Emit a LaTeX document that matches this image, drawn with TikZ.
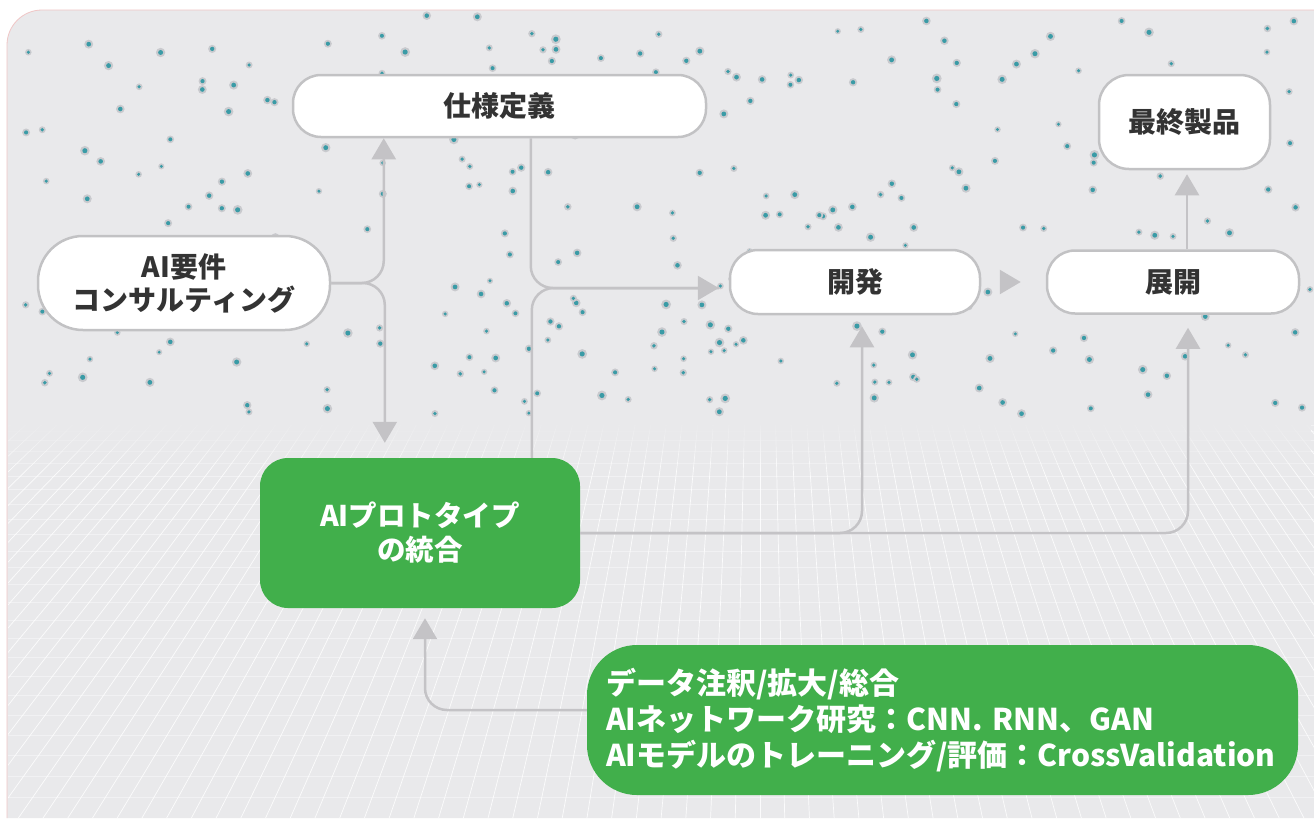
\documentclass[tikz,border=0pt]{standalone}
\usepackage{fontspec}
\setmainfont{Noto Sans CJK JP}
\usetikzlibrary{arrows.meta,calc,fadings}
\definecolor{bg}{HTML}{E9E9EB}
\definecolor{edge}{HTML}{F0C6C6}
\definecolor{bord}{HTML}{C2C2C4}
\definecolor{lc}{HTML}{C4C3C6}
\definecolor{txt}{HTML}{333333}
\definecolor{grn}{HTML}{41AF4B}
\definecolor{dotc}{HTML}{3A9BA6}
\definecolor{halo}{HTML}{C9CACE}
\begin{document}
\begin{tikzpicture}[x=1pt,y=-1pt,
  wbox/.style={draw=bord, line width=2.5pt, fill=white, text=txt, font=\bfseries\fontsize{28pt}{33pt}\selectfont, align=center, inner sep=0pt},
  gbox/.style={fill=grn, text=white, font=\bfseries\fontsize{28.5pt}{34pt}\selectfont, inner sep=0pt},
  conn/.style={draw=lc, line width=2.5pt, rounded corners=22pt},
  arr/.style={conn, -{Triangle[length=21pt,width=24pt]}},
  gridl/.style={draw=white, line width=0.7pt}
]
\useasboundingbox (0,0) rectangle (1314,823);
% background panel
\fill[white] (0,0) rectangle (1314,823);
\fill[bg] (1330,10) -- (42,10) arc[start angle=270,end angle=180,radius=35] -- (7,818) -- (1330,818) -- cycle;
\draw[edge, line width=0.8pt] (1330,10) -- (42,10) arc[start angle=270,end angle=180,radius=35] -- (7,818);
% perspective grid
\begin{scope}
\clip (8,425) rectangle (1314,817);
\foreach \k in {-55,...,40}{
  \draw[gridl, opacity=0.85] (760,-250) -- ({760+25*\k},830);
}
\foreach \j in {0,...,24}{
  \pgfmathsetmacro\gy{425+393*((\j/24)^1.3)}
  \draw[gridl, opacity=0.4] (8,\gy) -- (1314,\gy);
}
\fill[bg, path fading=south] (8,420) rectangle (1314,470);
\end{scope}
% dots
\pgfmathsetseed{2024}
\foreach \i in {1,...,310}{
  \pgfmathsetmacro\dx{22+1290*rnd}
  \pgfmathsetmacro\dy{14+400*rnd}
  \pgfmathsetmacro\dr{1.6+1.0*rnd}
  \fill[halo] (\dx,\dy) circle[radius=1.9*\dr];
  \fill[dotc] (\dx,\dy) circle[radius=\dr];
}
% nodes
\node[wbox, minimum width=413pt, minimum height=62pt, rounded corners=28pt] (spec) at (499.5,106) {仕様定義};
\node[wbox, minimum width=171pt, minimum height=94pt, rounded corners=30pt] (final) at (1184.5,122) {最終製品};
\node[wbox, minimum width=292pt, minimum height=94pt, rounded corners=45pt] (req) at (184,283) {AI要件\\コンサルティング};
\node[wbox, minimum width=250pt, minimum height=64pt, rounded corners=28pt] (dev) at (855,282) {開発};
\node[wbox, minimum width=252pt, minimum height=63pt, rounded corners=28pt] (dep) at (1173,282) {展開};
\node[gbox, minimum width=320pt, minimum height=150pt, rounded corners=28pt, align=center] (proto) at (420,533) {AIプロトタイプ\\の統合};
\node[gbox, minimum width=711pt, minimum height=150pt, rounded corners=50pt, align=left, text width=673pt, inner xsep=19pt, font=\bfseries\fontsize{30pt}{36pt}\selectfont] (tasks) at (942.5,720) {データ注釈/拡大/総合\\AIネットワーク研究：CNN. RNN、GAN\\AIモデルのトレーニング/評価：CrossValidation};
% connectors
\draw[arr] (req.east) -| ([xshift=92pt]spec.south west);
\draw[arr] (req.east) -| ([xshift=125pt,yshift=15pt]proto.north west);
\coordinate (devin) at ([xshift=-10pt,yshift=-6pt]dev.west);
\draw[arr] ([xshift=239pt]spec.south west) |- (devin);
\draw[conn] ([xshift=272pt]proto.north west) |- (devin);
\draw[arr] (proto.east) -| ([xshift=7pt,yshift=-11pt]dev.south);
\draw[arr] (proto.east) -| ([xshift=15pt,yshift=-13pt]dep.south);
\draw[arr] ([xshift=21pt]dev.east) -- ([xshift=-25pt]dep.west);
\draw[arr] ([xshift=14pt]dep.north) -- ([xshift=2.5pt,yshift=-4pt]final.south);
\draw[arr] ([yshift=10pt]tasks.west) -| ([xshift=5pt,yshift=-10pt]proto.south);
\end{tikzpicture}
\end{document}
